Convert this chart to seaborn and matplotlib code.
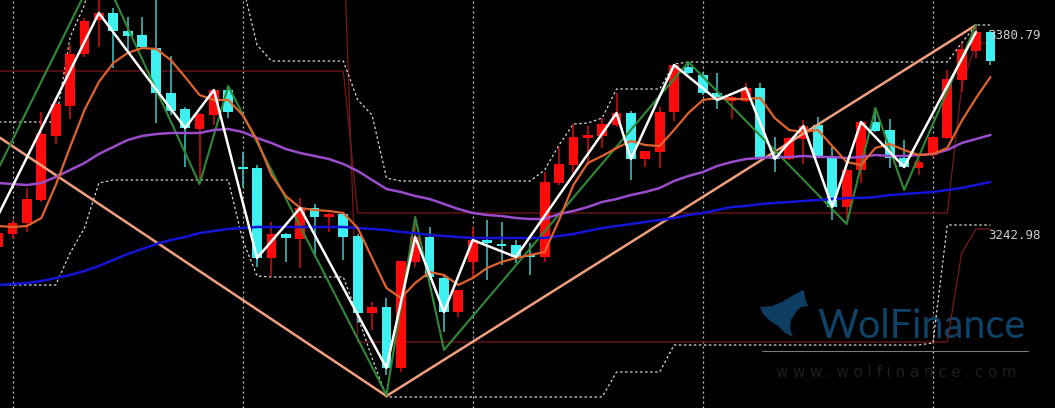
import numpy as np
import pandas as pd
import matplotlib
matplotlib.use("Agg")
import matplotlib.pyplot as plt
import seaborn as sns

# daily candles (index points)
opens = [3225.4, 3234.5, 3242.2, 3258.3, 3303.1, 3324.1, 3360.5, 3384.3, 3389.2, 3376.6,
         3373.8, 3364.7, 3333.2, 3322.0, 3308.0, 3317.8, 3335.3, 3281.4, 3280.7, 3217.7,
         3234.5, 3231.0, 3252.7, 3246.4, 3248.5, 3233.1, 3179.2, 3183.4, 3140.7, 3214.9,
         3232.4, 3203.7, 3179.9, 3214.9, 3230.3, 3227.5, 3226.8, 3219.8, 3218.4, 3270.2,
         3282.8, 3301.7, 3303.1, 3310.8, 3319.2, 3287.0, 3291.9, 3319.9, 3351.4, 3345.8,
         3333.2, 3327.6, 3327.6, 3336.7, 3289.1, 3287.0, 3301.0, 3310.8, 3288.4, 3253.4,
         3279.3, 3312.9, 3307.3, 3287.7, 3280.7, 3289.8, 3301.7, 3342.3, 3362.6, 3375.9]
highs = [3238.7, 3244.3, 3266.7, 3319.9, 3328.3, 3366.8, 3385.7, 3422.8, 3392.7, 3386.4,
         3386.4, 3405.3, 3359.1, 3323.4, 3319.2, 3335.3, 3338.1, 3291.9, 3282.8, 3242.9,
         3235.2, 3259.7, 3255.5, 3249.2, 3249.9, 3234.5, 3186.9, 3189.7, 3215.6, 3246.4,
         3239.4, 3205.1, 3195.3, 3239.4, 3244.3, 3242.9, 3230.3, 3228.2, 3277.9, 3295.4,
         3311.5, 3310.1, 3315.7, 3333.2, 3320.6, 3292.6, 3323.4, 3353.5, 3354.9, 3347.9,
         3347.2, 3331.1, 3340.2, 3340.2, 3302.4, 3302.4, 3314.3, 3316.4, 3295.4, 3280.0,
         3312.9, 3322.7, 3315.0, 3300.3, 3286.3, 3302.4, 3349.3, 3368.2, 3380.8, 3377.3]
lows = [3221.9, 3231.7, 3235.9, 3256.9, 3297.5, 3315.0, 3358.4, 3365.4, 3350.7, 3363.3,
        3364.7, 3312.2, 3317.8, 3281.4, 3272.3, 3310.8, 3315.7, 3267.4, 3211.4, 3204.4,
        3214.9, 3210.7, 3218.4, 3235.9, 3216.3, 3172.2, 3167.3, 3135.8, 3137.9, 3211.4,
        3202.3, 3165.9, 3176.4, 3204.4, 3202.3, 3212.8, 3214.2, 3205.8, 3214.9, 3268.8,
        3277.2, 3282.8, 3294.7, 3309.4, 3272.3, 3281.4, 3280.7, 3313.6, 3346.5, 3331.8,
        3322.0, 3315.0, 3326.9, 3287.7, 3277.9, 3286.3, 3283.5, 3287.7, 3244.3, 3245.7,
        3270.2, 3305.9, 3280.7, 3280.7, 3275.8, 3288.4, 3301.0, 3333.9, 3357.7, 3352.8]
closes = [3235.2, 3242.2, 3259.0, 3304.5, 3325.5, 3360.5, 3383.6, 3389.2, 3376.6, 3373.1,
          3365.4, 3333.2, 3320.6, 3308.7, 3318.5, 3335.3, 3319.9, 3280.0, 3217.7, 3234.5,
          3231.7, 3252.7, 3246.4, 3248.5, 3232.4, 3179.2, 3183.4, 3140.7, 3215.6, 3232.4,
          3204.4, 3179.9, 3195.3, 3230.3, 3228.2, 3226.1, 3218.4, 3218.4, 3270.9, 3283.5,
          3302.4, 3303.8, 3311.5, 3319.2, 3287.0, 3292.6, 3319.9, 3352.8, 3347.2, 3333.2,
          3328.3, 3330.4, 3336.7, 3288.4, 3287.0, 3301.7, 3310.1, 3288.4, 3253.4, 3279.3,
          3312.9, 3306.6, 3287.7, 3281.4, 3284.9, 3302.4, 3343.0, 3364.0, 3375.9, 3355.6]

# moving averages
ma_fast = [3240.1, 3239.4, 3240.1, 3245.7, 3268.8, 3295.4, 3321.3, 3340.9, 3354.2, 3361.2,
           3364.7, 3364.0, 3356.3, 3344.4, 3331.8, 3328.3, 3328.3, 3317.8, 3300.3, 3275.8,
           3261.1, 3252.7, 3251.3, 3250.6, 3249.2, 3238.7, 3217.7, 3196.7, 3189.7, 3200.2,
           3207.9, 3205.8, 3198.8, 3203.7, 3210.7, 3214.9, 3217.7, 3219.8, 3221.9, 3244.3,
           3268.8, 3284.2, 3289.1, 3294.7, 3299.6, 3296.8, 3296.1, 3307.3, 3319.2, 3328.3,
           3329.7, 3329.0, 3329.0, 3329.7, 3315.7, 3307.3, 3305.9, 3307.3, 3296.1, 3284.9,
           3282.8, 3294.7, 3297.5, 3293.3, 3289.8, 3290.5, 3294.7, 3313.6, 3329.7, 3344.4]
ma_mid = [3270.2, 3269.5, 3268.8, 3270.2, 3274.4, 3279.3, 3284.2, 3290.5, 3295.4, 3300.3,
          3303.1, 3304.5, 3305.2, 3305.2, 3305.2, 3307.3, 3308.0, 3305.9, 3301.7, 3298.2,
          3294.0, 3291.2, 3289.1, 3287.0, 3283.5, 3278.6, 3272.3, 3266.0, 3263.9, 3261.1,
          3259.0, 3255.5, 3252.0, 3249.2, 3247.8, 3247.1, 3245.7, 3245.0, 3245.0, 3248.5,
          3250.6, 3253.4, 3256.9, 3259.0, 3261.8, 3263.9, 3266.7, 3271.6, 3275.1, 3277.9,
          3282.1, 3284.9, 3287.0, 3287.7, 3288.4, 3288.4, 3289.1, 3288.4, 3288.4, 3287.7,
          3288.4, 3289.8, 3289.1, 3289.1, 3289.8, 3290.5, 3293.3, 3298.2, 3301.0, 3303.8]
ma_slow = [3198.8, 3199.5, 3200.2, 3201.6, 3203.7, 3205.8, 3208.6, 3212.1, 3216.3, 3220.5,
           3224.0, 3227.5, 3230.3, 3232.4, 3235.2, 3236.6, 3238.0, 3238.7, 3239.4, 3239.4,
           3239.4, 3239.4, 3239.4, 3239.4, 3239.4, 3238.7, 3238.0, 3237.3, 3235.9, 3235.2,
           3233.8, 3233.1, 3232.4, 3231.7, 3231.7, 3231.7, 3231.7, 3231.7, 3231.7, 3233.1,
           3234.5, 3236.6, 3238.7, 3240.1, 3241.5, 3242.9, 3244.3, 3245.7, 3247.8, 3249.2,
           3251.3, 3253.4, 3254.1, 3255.5, 3256.2, 3256.9, 3257.6, 3258.3, 3259.0, 3259.7,
           3259.7, 3260.4, 3261.8, 3262.5, 3263.2, 3263.9, 3265.3, 3266.7, 3268.8, 3270.9]

# channel lines (dotted white)
chan_up = ([3312.9] * 5 + [3372.4, 3394.8] + [3440.3] * 10 + [3408.8, 3366.8] + [3355.6] * 6
           + [3328.3, 3317.8, 3273.7] + [3271.6] * 10 + [3279.3, 3296.8, 3311.5, 3312.2, 3315.7]
           + [3336.0] * 4 + [3353.5] + [3354.9] * 19 + [3368.2] + [3380.8] * 2)
chan_dn = ([3198.8] * 5 + [3221.2, 3238.7, 3270.2] + [3272.3] * 9 + [3230.3, 3205.1] + [3204.4] * 6
           + [3177.1, 3147.7] + [3120.4] * 16 + [3137.9] * 4 + [3156.8] * 18 + [3158.2] + [3240.8] * 4)

# dark red bands
band_a = [3348.6] * 25 + [3249.2] * 42 + [3337.4, 3368.2, 3368.2]
band_b = [3445.0] * 25 + [3158.9] * 42 + [3221.2, 3238.0, 3238.0]

# zigzags (vertex index, value)
zz_white_idx = [-1, 7, 13, 15, 18, 21, 27, 29, 31, 33, 36, 43, 44, 47, 50, 52, 54, 56, 58, 60, 63, 68]
zz_white_val = [3227.5, 3389.2, 3308.7, 3335.3, 3217.7, 3252.7, 3140.7, 3232.4, 3179.9, 3230.3,
                3218.4, 3319.2, 3287.0, 3352.8, 3328.3, 3336.7, 3287.0, 3310.1, 3253.4, 3312.9,
                3281.4, 3375.9]
zz_green_idx = [-1, 7, 14, 16, 27, 29, 31, 48, 59, 61, 63, 68]
zz_green_val = [3259.7, 3422.8, 3269.5, 3338.1, 3121.8, 3246.4, 3153.3, 3354.9, 3241.5, 3322.7,
                3265.3, 3380.8]
zz_big_idx = [-1, 27, 68]
zz_big_val = [3309.4, 3121.1, 3380.8]

grid_idx = [1, 17, 33, 49, 65]
label_hi = "3380.79"
label_lo = "3242.98"

df = pd.DataFrame({"o": opens, "h": highs, "l": lows, "c": closes,
                   "fast": ma_fast, "mid": ma_mid, "slow": ma_slow,
                   "up_ch": chan_up, "dn_ch": chan_dn, "ba": band_a, "bb": band_b})
df["i"] = np.arange(len(df))

sns.set_theme(style="dark", rc={"axes.facecolor": "black", "figure.facecolor": "black"})

fig = plt.figure(figsize=(10.55, 4.08), dpi=100)
ax = fig.add_axes([0, 0, 1, 1])
ax.set_facecolor("black")

# vertical grid
for g in grid_idx:
    ax.axvline(g, color="#d0d0d0", lw=0.9, ls=(0, (1.5, 2.5)), zorder=1)

# red bands
sns.lineplot(data=df, x="i", y="ba", ax=ax, color="#7a1818", lw=0.9, zorder=2)
sns.lineplot(data=df, x="i", y="bb", ax=ax, color="#7a1818", lw=0.9, zorder=2)

# dotted channels
for col in ["up_ch", "dn_ch"]:
    ax.plot(df["i"], df[col], color="#d8d8d8", lw=0.9, ls=(0, (2, 2)), zorder=2)

# candles
up = df["c"] >= df["o"]
body = np.maximum((df["c"] - df["o"]).abs(), 1.2)
bottom = np.minimum(df["o"], df["c"])
ax.vlines(df["i"][up], df["l"][up], df["h"][up], color="#d41010", lw=1.1, zorder=3)
ax.vlines(df["i"][~up], df["l"][~up], df["h"][~up], color="#40c8c8", lw=1.1, zorder=3)
ax.bar(df["i"][up], body[up], bottom=bottom[up], width=0.68, color="#ff0a0a", lw=0, zorder=4)
ax.bar(df["i"][~up], body[~up], bottom=bottom[~up], width=0.68, color="#3ff0f0", lw=0, zorder=4)

# zigzags
ax.plot(zz_big_idx, zz_big_val, color="#f2a07c", lw=1.8, zorder=5)
ax.plot(zz_green_idx, zz_green_val, color="#2f8a36", lw=1.5, zorder=5)
ax.plot(zz_white_idx, zz_white_val, color="white", lw=1.8, zorder=6)

# moving averages
sns.lineplot(data=df, x="i", y="slow", ax=ax, color="#1414d8", lw=1.8, zorder=5)
sns.lineplot(data=df, x="i", y="mid", ax=ax, color="#9a4ccc", lw=1.8, zorder=5)
sns.lineplot(data=df, x="i", y="fast", ax=ax, color="#e0622c", lw=1.6, zorder=5)

ax.set_xlim(0.125, 73.49)
ax.set_ylim(3112.7, 3398.3)
ax.set_axis_off()

# price tags
ax.text(0.937, 0.914, label_hi, transform=ax.transAxes, color="#d0d0d0",
        fontsize=9, family="DejaVu Sans Mono", va="center", ha="left", zorder=7)
ax.text(0.937, 0.422, label_lo, transform=ax.transAxes, color="#d0d0d0",
        fontsize=9, family="DejaVu Sans Mono", va="center", ha="left", zorder=7)

# watermark
logo = np.array([(760, 307), (772, 306), (782, 302), (792, 296), (801, 291), (804, 290),
                 (805, 298), (808, 306), (801, 307), (796, 312), (791, 320), (790, 329),
                 (793, 337), (785, 333), (778, 326), (770, 321), (763, 314)])
lx = logo[:, 0] / 1055
ly = 1 - logo[:, 1] / 408
ax.fill(lx, ly, color="#0e3d62", transform=ax.transAxes, zorder=1, lw=0)
ax.text(0.775, 0.172, "WolFinance", transform=ax.transAxes, color="#0d4269",
        fontsize=28.5, family="Lato", ha="left", va="baseline", zorder=1)
ax.plot([0.722, 0.974], [0.140, 0.140], transform=ax.transAxes, color="#7a7a7a", lw=0.8, zorder=1)
ax.text(0.850, 0.086, "w w w . w o l f i n a n c e . c o m", transform=ax.transAxes,
        color="#1e1e1e", fontsize=10.8, family="DejaVu Sans", ha="center", va="center", zorder=1)

fig.savefig("out.png", dpi=100, facecolor="black")
